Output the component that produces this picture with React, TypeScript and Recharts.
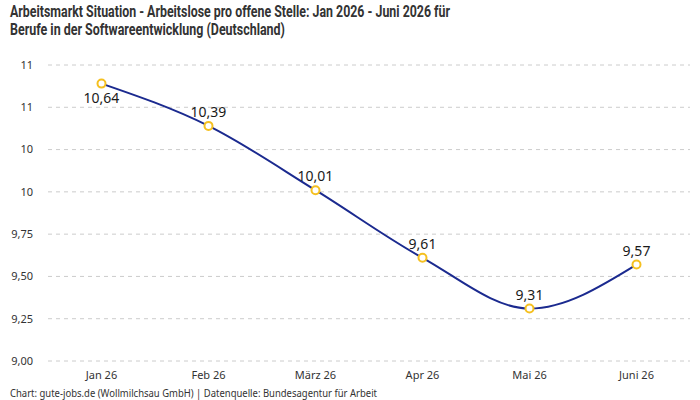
import React from "react";
import { LineChart, Line, XAxis, YAxis, CartesianGrid, LabelList } from "recharts";

const months = ["Jan 26", "Feb 26", "März 26", "Apr 26", "Mai 26", "Juni 26"];
const values = [10.64, 10.39, 10.01, 9.61, 9.31, 9.57];
const yTicks = [9, 9.25, 9.5, 9.75, 10, 10.25, 10.5, 10.75];

const titleLine1 = "Arbeitsmarkt Situation - Arbeitslose pro offene Stelle: Jan 2026 - Juni 2026 für";
const titleLine2 = "Berufe in der Softwareentwicklung (Deutschland)";
const footer = "Chart: gute-jobs.de (Wollmilchsau GmbH) | Datenquelle: Bundesagentur für Arbeit";

const data = months.map((m, i) => ({ month: m, value: values[i] }));

const fmtTick = (v: number) =>
  v >= 10 ? String(Math.round(v)) : v.toFixed(2).replace(".", ",");

const FONT = "'Noto Sans', Roboto, sans-serif";

const PointLabel = (props: any) => {
  const { x, y, value, index } = props;
  const below = index === 0;
  return (
    <text
      x={x}
      y={below ? y + 19 : y - 9}
      textAnchor="middle"
      fontSize={14}
      fontFamily={FONT}
      fill="#1a1a1a"
    >
      {Number(value).toFixed(2).replace(".", ",")}
    </text>
  );
};

export default function App() {
  return (
    <div
      style={{
        position: "absolute",
        top: 0,
        left: 0,
        width: 700,
        height: 400,
        background: "#fff",
        fontFamily: FONT,
      }}
    >
      <LineChart
        width={700}
        height={400}
        data={data}
        margin={{ top: 65, right: 10, left: 0, bottom: 9 }}
      >
        <CartesianGrid vertical={false} stroke="#cccccc" strokeDasharray="4 4" />
        <XAxis
          dataKey="month"
          axisLine={false}
          tickLine={false}
          height={30}
          tickMargin={4}
          padding={{ left: 53.5, right: 53.5 }}
          tick={{ fontSize: 11, fill: "#333", fontFamily: FONT }}
        />
        <YAxis
          domain={[9, 10.75]}
          ticks={yTicks}
          width={48}
          axisLine={false}
          tickLine={false}
          tickMargin={9}
          tickFormatter={fmtTick}
          tick={{ fontSize: 11, fill: "#333", fontFamily: FONT }}
          interval={0}
        />
        <Line
          type="monotone"
          dataKey="value"
          stroke="#1b2a8f"
          strokeWidth={2}
          dot={{ r: 4, fill: "#fff", stroke: "#f5c020", strokeWidth: 2 }}
          isAnimationActive={false}
        >
          <LabelList dataKey="value" content={<PointLabel />} />
        </Line>
      </LineChart>
      <svg
        width={700}
        height={400}
        style={{ position: "absolute", top: 0, left: 0, pointerEvents: "none" }}
      >
        <text
          x={10}
          y={17}
          fontFamily="Roboto, sans-serif"
          fontWeight={700}
          fontSize={17}
          fill="#333"
          textLength={440}
          lengthAdjust="spacingAndGlyphs"
        >
          {titleLine1}
        </text>
        <text
          x={10}
          y={35}
          fontFamily="Roboto, sans-serif"
          fontWeight={700}
          fontSize={17}
          fill="#333"
          textLength={275}
          lengthAdjust="spacingAndGlyphs"
        >
          {titleLine2}
        </text>
        <text
          x={10}
          y={397}
          fontFamily={FONT}
          fontSize={10}
          fill="#333"
          textLength={367}
          lengthAdjust="spacingAndGlyphs"
        >
          {footer}
        </text>
      </svg>
    </div>
  );
}
